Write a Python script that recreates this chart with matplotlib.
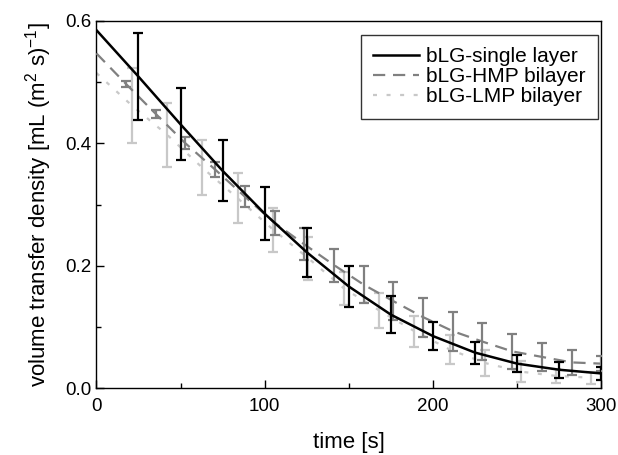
import numpy as np
import matplotlib
matplotlib.use('Agg')
import matplotlib.pyplot as plt

plt.rcParams['font.family'] = ['Liberation Sans', 'DejaVu Sans']
plt.rcParams['mathtext.default'] = 'regular'

# bLG-single layer
t_single = [0, 25, 50, 75, 100, 125, 150, 175, 200, 225, 250, 275, 300]
v_single = [0.585, 0.509, 0.431, 0.355, 0.285, 0.222, 0.166, 0.120, 0.085, 0.058, 0.040, 0.030, 0.024]
e_single = [0.0, 0.071, 0.059, 0.050, 0.043, 0.040, 0.034, 0.030, 0.023, 0.018, 0.014, 0.013, 0.011]

# bLG-HMP bilayer
t_hmp = [0, 17.6, 35.3, 52.9, 70.6, 88.2, 105.9, 123.5, 141.2, 158.8, 176.5, 194.1,
         211.8, 229.4, 247.1, 264.7, 282.4, 300]
v_hmp = [0.547, 0.497, 0.448, 0.400, 0.357, 0.313, 0.270, 0.235, 0.201, 0.169, 0.142, 0.116,
         0.093, 0.076, 0.060, 0.051, 0.042, 0.040]
e_hmp = [0.0, 0.005, 0.007, 0.010, 0.012, 0.017, 0.020, 0.026, 0.027, 0.030, 0.031, 0.032,
         0.032, 0.030, 0.029, 0.023, 0.020, 0.012]

# bLG-LMP bilayer
t_lmp = [0, 21, 42, 63, 84, 105, 126, 147, 168, 189, 210, 231, 252, 273, 294]
v_lmp = [0.515, 0.462, 0.414, 0.360, 0.310, 0.259, 0.212, 0.163, 0.127, 0.093, 0.063, 0.041,
         0.027, 0.020, 0.017]
e_lmp = [0.0, 0.061, 0.052, 0.045, 0.041, 0.036, 0.035, 0.027, 0.029, 0.025, 0.024, 0.021,
         0.017, 0.012, 0.010]

c_single = 'black'
c_hmp = '#808080'
c_lmp = '#c8c8c8'

fig = plt.figure(figsize=(6.18, 4.55), dpi=100)
ax = fig.add_axes([0.156, 0.147, 0.817, 0.807])

lw = 1.6
# LMP
ax.errorbar(t_lmp[1:], v_lmp[1:], yerr=e_lmp[1:], fmt='none', ecolor=c_lmp,
            elinewidth=lw, capsize=3.5, capthick=lw, zorder=2)
ax.plot(t_lmp, v_lmp, color=c_lmp, lw=lw, linestyle=(0, (1.8, 4.3)),
        label='bLG-LMP bilayer', zorder=2)
# HMP
ax.errorbar(t_hmp[1:], v_hmp[1:], yerr=e_hmp[1:], fmt='none', ecolor=c_hmp,
            elinewidth=lw, capsize=3.5, capthick=lw, zorder=3)
ax.plot(t_hmp, v_hmp, color=c_hmp, lw=lw, linestyle=(0, (5.5, 3.5)),
        label='bLG-HMP bilayer', zorder=3)
# single layer
ax.errorbar(t_single[1:], v_single[1:], yerr=e_single[1:], fmt='none', ecolor=c_single,
            elinewidth=lw, capsize=3.5, capthick=lw, zorder=4)
ax.plot(t_single, v_single, color=c_single, lw=1.8, label='bLG-single layer', zorder=4)

ax.set_xlim(0, 300)
ax.set_ylim(0, 0.6)
ax.set_xticks([0, 100, 200, 300])
ax.set_xticks([50, 150, 250], minor=True)
ax.set_yticks([0.0, 0.2, 0.4, 0.6])
ax.set_yticks([0.1, 0.3, 0.5], minor=True)
ax.set_yticklabels(['0.0', '0.2', '0.4', '0.6'])
ax.tick_params(which='both', direction='in', labelsize=13.5, width=1)
ax.tick_params(axis='x', which='both', pad=7)
ax.tick_params(which='major', length=6)
ax.tick_params(which='minor', length=3.5)
for s in ax.spines.values():
    s.set_linewidth(1)

ax.set_xlabel('time [s]', fontsize=16, labelpad=12)
ax.set_ylabel('volume transfer density [mL (m$^2$ s)$^{-1}$]', fontsize=16, labelpad=8)

handles, labels = ax.get_legend_handles_labels()
order = [2, 1, 0]
leg = ax.legend([handles[i] for i in order], [labels[i] for i in order],
                loc='upper right', bbox_to_anchor=(0.994, 0.962), borderaxespad=0,
                fontsize=15, frameon=True, fancybox=False, handlelength=2.2,
                handletextpad=0.35, labelspacing=0.05, borderpad=0.6)
leg.get_frame().set_edgecolor('black')
leg.get_frame().set_linewidth(1)

fig.savefig('out.png', dpi=100)
